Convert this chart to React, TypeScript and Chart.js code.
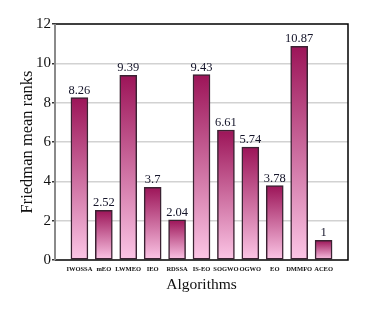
import React, { useEffect, useRef } from "react";
import { Chart, registerables } from "chart.js";

Chart.register(...registerables);

const categories = ["IWOSSA", "mEO", "LWMEO", "IEO", "RDSSA", "IS-EO", "SOGWO", "OGWO", "EO", "DMMFO", "ACEO"];
const ranks = [8.26, 2.52, 9.39, 3.7, 2.04, 9.43, 6.61, 5.74, 3.78, 10.87, 1];
const yTicks = [0, 2, 4, 6, 8, 10, 12];

const SERIF = "'Liberation Serif', 'Times New Roman', serif";
const TOP_COLOR = "#9c1458";
const BOTTOM_COLOR = "#fcc6e6";

export default function App() {
  const ref = useRef<HTMLCanvasElement | null>(null);

  useEffect(() => {
    document.body.style.margin = "0";
    const canvas = ref.current;
    if (!canvas) return;

    const labels = ["", ...categories, ""];
    const data = [null, ...ranks, null];

    const framePlugin = {
      id: "frame",
      afterDatasetsDraw(chart: any) {
        const { ctx, chartArea } = chart;
        const { left, right, top, bottom } = chartArea;
        ctx.save();
        ctx.lineWidth = 1.5;
        ctx.strokeStyle = "#000";
        ctx.beginPath();
        ctx.moveTo(left, top);
        ctx.lineTo(right, top);
        ctx.lineTo(right, bottom);
        ctx.lineTo(left, bottom);
        ctx.stroke();
        ctx.strokeStyle = "#8a8a8a";
        ctx.lineWidth = 2;
        ctx.beginPath();
        ctx.moveTo(left, top);
        ctx.lineTo(left, bottom);
        ctx.stroke();
        const meta = chart.getDatasetMeta(0);
        ctx.fillStyle = "#15152a";
        ctx.font = `12.5px ${SERIF}`;
        ctx.textAlign = "center";
        ctx.textBaseline = "bottom";
        meta.data.forEach((el: any, i: number) => {
          const v = data[i];
          if (v == null) return;
          ctx.fillText(String(v), el.x, el.y - 1);
        });
        ctx.restore();
      },
    };

    const chart = new Chart(canvas, {
      type: "bar",
      data: {
        labels,
        datasets: [
          {
            data,
            barThickness: 17,
            borderWidth: 1.5,
            borderColor: "#3a2232",
            borderSkipped: false,
            backgroundColor: (c: any) => {
              const ch = c.chart;
              if (!ch.chartArea || c.type !== "data") return TOP_COLOR;
              const v = c.raw;
              if (v == null) return "transparent";
              const ys = ch.scales.y;
              const t = ys.getPixelForValue(v);
              const b = ys.getPixelForValue(0);
              const g = ch.ctx.createLinearGradient(0, t, 0, b);
              g.addColorStop(0, TOP_COLOR);
              g.addColorStop(1, BOTTOM_COLOR);
              return g;
            },
          },
        ],
      },
      options: {
        responsive: false,
        animation: false,
        layout: { padding: { left: 0, right: 31, top: 24, bottom: 0 } },
        plugins: { legend: { display: false }, tooltip: { enabled: false } },
        scales: {
          x: {
            offset: false,
            grid: { display: false, drawTicks: false },
            border: { display: false },
            ticks: {
              autoSkip: false,
              maxRotation: 0,
              minRotation: 0,
              padding: 5,
              color: "#111",
              font: { family: SERIF, size: 6.5, weight: "bold" },
            },
            title: {
              display: true,
              text: "Algorithms",
              color: "#111",
              font: { family: SERIF, size: 15.5 },
              padding: { top: 0, bottom: 15.5 },
            },
            afterFit: (s: any) => {
              s.height = 50;
            },
          },
          y: {
            min: 0,
            max: 12,
            afterBuildTicks: (s: any) => {
              s.ticks = yTicks.map((v) => ({ value: v }));
            },
            grid: {
              color: (c: any) => (c.tick && (c.tick.value === 0 || c.tick.value === 12) ? "rgba(0,0,0,0)" : "#d2d2d2"),
              lineWidth: 1.5,
              tickColor: "#333",
              tickLength: 3,
            },
            border: { display: false },
            ticks: {
              padding: 1,
              color: "#111",
              font: { family: SERIF, size: 15 },
            },
            title: {
              display: true,
              text: "Friedman mean ranks",
              color: "#111",
              font: { family: SERIF, size: 16.5 },
              padding: { top: 18, bottom: 0 },
            },
            afterFit: (s: any) => {
              s.width = 55;
            },
          },
        },
      },
      plugins: [framePlugin],
    });

    return () => chart.destroy();
  }, []);

  return <canvas ref={ref} width={379} height={310} style={{ display: "block" }} />;
}
